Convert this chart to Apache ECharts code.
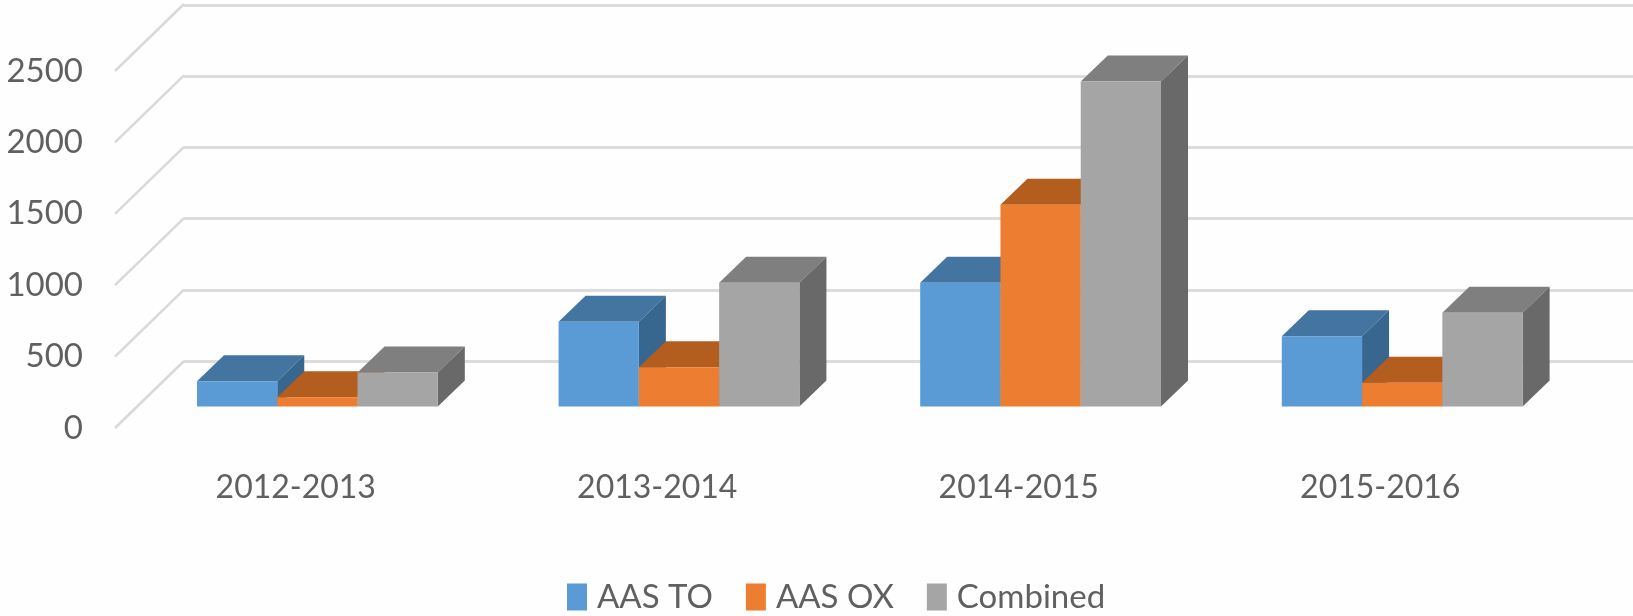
<!DOCTYPE html>
<html>
<head>
<meta charset="utf-8">
<title>AAS TO / AAS OX</title>
<script src="https://cdn.jsdelivr.net/npm/echarts@6/dist/echarts.min.js"></script>
<style>
html,body{margin:0;padding:0;background:#fff;}
#shape{width:1633px;height:616px;filter:blur(0.7px);}
</style>
</head>
<body>
<div id="shape"></div>
<script>
var categories=['2012-2013','2013-2014','2014-2015','2015-2016'];
var aasTo=[178,595,868,492];
var aasOx=[65,275,1413,167];
var combined=[238,868,2277,657];
var tickValues=[0,500,1000,1500,2000,2500];

var seriesNames=['AAS TO','AAS OX','Combined'];
var frontColors=['#5b9bd5','#ed7d31','#a5a5a5'];
var topColors=['#4475a1','#b35d1f','#7f7f7f'];
var sideColors=['#37668f','#a35419','#696969'];
var textColor='#606060';
var fontName='Lato,"Open Sans",sans-serif';

// how far the 3d box goes back
var barDepthX=27, barDepthY=26;
var wallDepthX=69, wallDepthY=67;
var barShare=0.222;

function points(fill,list){
  return {type:'polygon',shape:{points:list},style:{fill:fill}};
}

function barRenderer(index){
  return function(params,api){
    var base=api.coord([api.value(0),0]);
    var top=api.coord([api.value(0),api.value(1)]);
    var w=api.size([1,0])[0]*barShare;
    var x0=base[0]+(index-1.5)*w;
    var x1=x0+w;
    var y0=base[1], y1=top[1];
    return {
      type:'group',
      children:[
        points(topColors[index],[[x0,y1],[x1,y1],[x1+barDepthX,y1-barDepthY],[x0+barDepthX,y1-barDepthY]]),
        points(sideColors[index],[[x1,y1],[x1+barDepthX,y1-barDepthY],[x1+barDepthX,y0-barDepthY],[x1,y0]]),
        points(frontColors[index],[[x0,y1],[x1,y1],[x1,y0],[x0,y0]])
      ]
    };
  };
}

function sideWallRenderer(params,api){
  var p=api.coord([0,api.value(0)]);
  var left=params.coordSys.x;
  return {
    type:'line',
    shape:{x1:left,y1:p[1],x2:left+wallDepthX,y2:p[1]-wallDepthY},
    style:{stroke:'#d9d9d9',lineWidth:2.5}
  };
}

function makeBar(index,values){
  return {
    name:seriesNames[index],
    type:'custom',
    xAxisIndex:2,
    yAxisIndex:2,
    z:3,
    itemStyle:{color:frontColors[index]},
    renderItem:barRenderer(index),
    encode:{x:0,y:1},
    data:values.map(function(v,i){return [i,v];})
  };
}

var chart=echarts.init(document.getElementById('shape'));
window.onresize=function(){
  chart.resize();
};
chart.setOption({
  animation:false,
  backgroundColor:'#fefefe',
  textStyle:{fontFamily:fontName},
  legend:{
    data:seriesNames,
    left:567,
    top:580,
    padding:0,
    icon:'rect',
    itemWidth:20,
    itemHeight:27,
    itemGap:33,
    textStyle:{fontFamily:fontName,fontSize:33,lineHeight:34,color:textColor,padding:[0,0,0,5]}
  },
  grid:[
    {left:115,top:71,width:1446,height:357,outerBoundsMode:'none'},   // front, carries the labels
    {left:184,top:5,right:0,height:356,outerBoundsMode:'none'},       // back wall
    {left:136.6,top:49.6,width:1446.4,height:357,outerBoundsMode:'none'} // plane of the bars
  ],
  xAxis:[
    {gridIndex:0,type:'category',data:categories,axisLine:{show:false},axisTick:{show:false},
      axisLabel:{margin:44,fontFamily:fontName,fontSize:32,color:textColor}},
    {gridIndex:1,type:'category',data:categories,show:false},
    {gridIndex:2,type:'category',data:categories,show:false}
  ],
  yAxis:[
    {gridIndex:0,type:'value',min:0,max:2500,interval:500,axisLine:{show:false},axisTick:{show:false},splitLine:{show:false},
      axisLabel:{margin:32,fontFamily:fontName,fontSize:33,color:textColor,padding:[6,0,0,0],formatter:function(v){return String(v);}}},
    {gridIndex:1,type:'value',min:0,max:2500,interval:500,axisLine:{show:false},axisTick:{show:false},axisLabel:{show:false},
      splitLine:{show:true,lineStyle:{color:'#dcdcdc',width:3}}},
    {gridIndex:2,type:'value',min:0,max:2500,interval:500,show:false}
  ],
  series:[
    {
      name:'wall',
      type:'custom',
      xAxisIndex:0,
      yAxisIndex:0,
      z:1,
      renderItem:sideWallRenderer,
      encode:{y:0},
      data:tickValues.map(function(v){return [v];})
    },
    makeBar(0,aasTo),
    makeBar(1,aasOx),
    makeBar(2,combined)
  ]
});
</script>
</body>
</html>
